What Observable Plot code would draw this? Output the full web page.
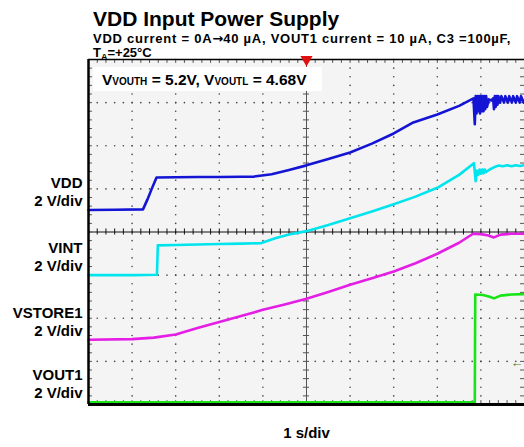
<!DOCTYPE html>
<html><head><meta charset="utf-8">
<script src="https://cdn.jsdelivr.net/npm/d3@7"></script>
<script src="https://cdn.jsdelivr.net/npm/@observablehq/plot@0.6"></script>
<style>
body{margin:0;background:#fff;font-family:"Liberation Sans",Arial,sans-serif;}
#wrap{position:relative;width:524px;height:447px;overflow:hidden;}
.t{position:absolute;font-weight:bold;color:#000;white-space:nowrap;line-height:1;}
#title{left:93px;top:8px;font-size:21px;}
#sub1{left:93px;top:32px;font-size:13px;letter-spacing:0.75px;}
#sub2{left:93px;top:46.5px;font-size:13px;line-height:11px;}
#note{left:93px;top:67px;width:229px;height:24px;background:#fff;}
#note span.m{font-size:15.5px;}
#note span.s{font-size:10px;}
.arrow{font-family:"DejaVu Sans",sans-serif;font-weight:bold;letter-spacing:0;}
svg{position:absolute;left:0;top:0;}
</style></head><body><div id="wrap">
<div class="t" id="title"></div>
<div class="t" id="sub1"></div>
<div class="t" id="sub2"></div>
</div>
<script>
// ---- text ----
const title = "VDD Input Power Supply";
const subtitle1 = ["VDD current = 0A", "\u2192", "40 \u00b5A, VOUT1 current = 10 \u00b5A, C3 =100\u00b5F,"];
const subtitle2 = ["T", "A", "=+25\u00b0C"];
const noteParts = [["m","V"],["s","VOUTH"],["m"," = 5.2V, V"],["s","VOUTL"],["m"," = 4.68V"]];
const channelNames = ["VDD", "VINT", "VSTORE1", "VOUT1"];
const channelScales = ["2 V/div", "2 V/div", "2 V/div", "2 V/div"];
const timeScale = "1 s/div";
const voltsPerDiv = 2;

// ---- traces: [time (s), volts] ----
const vddTrace = [[0,0.02],[0.6,0.03],[1.25,0.05],[1.35,0.5],[1.45,1.0],[1.56,1.53],[2.0,1.54],[2.5,1.55],[3.0,1.55],[3.5,1.56],[3.8,1.57],[4.2,1.68],[4.6,1.88],[5.0,2.09],[5.5,2.38],[6.0,2.69],[6.5,3.1],[7.0,3.57],[7.45,4.08],[8.0,4.45],[8.5,4.85],[8.83,5.2],[8.86,4.0],[8.88,5.3],[8.90,4.5],[8.92,5.3],[8.94,4.6],[8.96,5.3],[8.98,4.5],[9.00,5.3],[9.02,4.6],[9.04,5.3],[9.06,4.6],[9.08,5.3],[9.10,4.7],[9.12,5.3],[9.14,4.8],[9.18,5.15],[9.24,5.1],[9.28,5.2],[9.30,4.7],[9.32,5.3],[9.34,4.8],[9.36,5.3],[9.38,4.9],[9.40,5.3],[9.44,5.0],[9.47,5.3],[9.53,5.0],[9.56,5.3],[9.62,5.0],[9.65,5.3],[9.71,5.0],[9.74,5.3],[9.80,5.0],[9.83,5.3],[9.89,5.0],[9.92,5.3],[9.98,5.0],[10,5.1]];
const vintTrace = [[0,0.0],[1.0,0.0],[1.57,0.02],[1.59,1.38],[2.0,1.40],[2.5,1.42],[3.0,1.44],[3.5,1.46],[3.95,1.48],[4.3,1.72],[4.6,1.88],[5.0,2.04],[5.5,2.33],[6.0,2.64],[6.5,2.95],[7.0,3.29],[7.5,3.64],[8.0,4.05],[8.5,4.65],[8.84,5.19],[8.88,4.36],[8.91,4.85],[8.94,4.65],[8.97,4.9],[9.0,4.7],[9.03,4.9],[9.06,4.72],[9.09,4.9],[9.12,4.78],[9.2,4.9],[9.3,5.0],[9.4,5.08],[9.5,5.05],[9.6,5.1],[9.7,5.05],[9.8,5.1],[9.9,5.06],[10,5.1]];
const vstoreTrace = [[0,0.0],[1.0,0.03],[1.5,0.1],[2.0,0.25],[2.5,0.55],[3.0,0.83],[3.5,1.1],[4.0,1.39],[4.5,1.64],[5.0,1.9],[5.5,2.22],[6.0,2.55],[6.5,2.85],[7.0,3.17],[7.5,3.55],[8.0,3.99],[8.5,4.5],[8.82,4.92],[9.0,4.9],[9.15,4.85],[9.3,4.75],[9.45,4.88],[9.7,4.92],[10,4.92]];
const vout1Trace = [[0,0.0],[8.86,0.0],[8.87,5.0],[9.05,4.98],[9.2,4.9],[9.3,4.82],[9.45,4.95],[9.7,5.0],[10,5.02]];
const vout1TriggerLevel = 1.85;

// ---- layout / style ----
const channelOffsets = [4.5, 3, 1.5, 0.05]; // ground marker position, in divisions
const channelColors = ["#1414d4", "#00e4ee", "#e41ee4", "#18e418"];
const traces = [vddTrace, vintTrace, vstoreTrace, vout1Trace];

document.getElementById("title").textContent = title;
document.getElementById("sub1").innerHTML = subtitle1[0] + "<span class='arrow'>" + subtitle1[1] + "</span>" + subtitle1[2];
document.getElementById("sub2").innerHTML = subtitle2[0] + "<span style='font-size:9px;vertical-align:-3px'>" + subtitle2[1] + "</span>" + subtitle2[2];

const rows = traces.flatMap((tr, i) => tr.map(([t, v]) => ({ch: channelNames[i], t, y: channelOffsets[i] + v / voltsPerDiv})));

const xs = d3.range(0, 10.001, 0.2);
const ys = d3.range(0, 8.001, 0.2);
const gridDots = [];
for (let gx = 1; gx <= 9; gx++) if (gx !== 5) for (const y of ys) gridDots.push({x: gx, y});
for (let gy = 1; gy <= 7; gy++) if (gy !== 4) for (const x of xs) gridDots.push({x, y: gy});

const tx = 0.07, ty = 0.07, ex = 0.09, ey = 0.09;

const chart = Plot.plot({
  width: 524, height: 447,
  marginLeft: 88, marginRight: 0, marginTop: 59, marginBottom: 43,
  x: {domain: [0, 10], axis: null},
  y: {domain: [0, 8], axis: null},
  style: {background: "transparent", fontFamily: "Liberation Sans, Arial, sans-serif", overflow: "visible"},
  marks: [
    Plot.frame({fill: "#f4f4f4", stroke: null}),
    Plot.dot(gridDots, {x: "x", y: "y", r: 0.8, fill: "#444", stroke: null}),
    Plot.ruleX([5], {stroke: "#555", strokeWidth: 1}),
    Plot.ruleY([4], {stroke: "#111", strokeWidth: 1.2}),
    Plot.ruleX(xs, {x: d => d, y1: 4 - ty, y2: 4 + ty, stroke: "#111"}),
    Plot.ruleY(ys, {y: d => d, x1: 5 - tx, x2: 5 + tx, stroke: "#555"}),
    Plot.ruleX(xs, {x: d => d, y1: 8, y2: 8 - ey, stroke: "#555"}),
    Plot.ruleX(xs, {x: d => d, y1: 0, y2: ey, stroke: "#555"}),
    Plot.ruleY(ys, {y: d => d, x1: 0, x2: ex, stroke: "#555"}),
    Plot.ruleY(ys, {y: d => d, x1: 10, x2: 10 - ex, stroke: "#555"}),
    Plot.line(rows, {x: "t", y: "y", z: "ch", stroke: "ch", strokeWidth: 2.6, curve: "linear"}),
    Plot.ruleX([0], {stroke: "#000", strokeWidth: 2.5}),
    Plot.ruleY([0], {stroke: "#000", strokeWidth: 3}),
    Plot.ruleY([8], {stroke: "#000", strokeWidth: 1.5}),
    Plot.dot([5], {x: d => d, y: 8, symbol: "triangle", rotate: 180, r: 4.5, fill: "#e01010", stroke: null}),
    Plot.text([vout1TriggerLevel], {x: 10, y: d => channelOffsets[3] + d / voltsPerDiv, text: () => "\u2190", textAnchor: "end", dx: -1, fill: "#4a7a1a", fontSize: 13, fontWeight: "bold"}),
    Plot.text(channelNames, {x: 0, y: (d, i) => channelOffsets[i], text: d => d, dx: -6, dy: -27, textAnchor: "end", fontSize: 15, fontWeight: "bold", fill: "#000"}),
    Plot.text(channelScales, {x: 0, y: (d, i) => channelOffsets[i], text: d => d, dx: -6, dy: -9, textAnchor: "end", fontSize: 15, fontWeight: "bold", fill: "#000"}),
    Plot.text([timeScale], {x: 5, y: 0, text: d => d, dy: 29, fontSize: 15, fontWeight: "bold", fill: "#000"})
  ],
  color: {domain: channelNames, range: channelColors}
});
const wrap = document.getElementById("wrap");
wrap.insertBefore(chart, wrap.firstChild);

const note = document.createElement("div");
note.className = "t"; note.id = "note";
note.innerHTML = "<div style='padding:5px 0 0 9px'>" + noteParts.map(([c, s]) => `<span class="${c}">${s}</span>`).join("") + "</div>";
wrap.appendChild(note);
</script>
</body></html>
